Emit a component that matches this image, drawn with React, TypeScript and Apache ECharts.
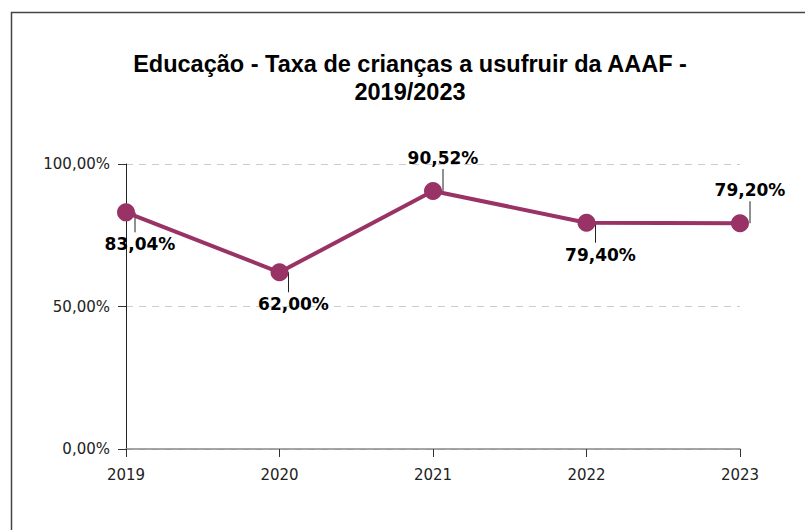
import React, { useEffect, useRef } from "react";
import * as echarts from "echarts";

const years = ["2019", "2020", "2021", "2022", "2023"];
const rates = [83.04, 62.0, 90.52, 79.4, 79.2];
const labelSide = ["bottom", "bottom", "top", "bottom", "top"];
const yTicks = [0, 50, 100];
const titleLines = ["Educação - Taxa de crianças a usufruir da AAAF -", "2019/2023"];

const COLOR = "#993366";
const fmt = (v: number) => v.toFixed(2).replace(".", ",") + "%";

export default function App() {
  const ref = useRef<HTMLDivElement>(null);
  useEffect(() => {
    document.body.style.margin = "0";
    const chart = echarts.init(ref.current!, null, { renderer: "svg" });
    const offsets: Record<string, number[]> = {
      bottom: [14, 32],
      top: [10, -33],
    };
    chart.setOption({
      animation: false,
      backgroundColor: "#ffffff",
      title: titleLines.map((t, i) => ({
        text: t,
        left: 410,
        textAlign: "center",
        top: 52 + i * 28,
        padding: 0,
        textStyle: {
          fontFamily: "Liberation Sans",
          fontWeight: "bold",
          fontSize: 23.5,
          lineHeight: 24,
          color: "#000000",
        },
      })),
      graphic: [
        {
          type: "rect",
          silent: true,
          shape: { x: 11.5, y: 12.5, width: 900, height: 700 },
          style: { fill: "none", stroke: "#444444", lineWidth: 1.5 },
        },
      ],
      grid: { left: 126, right: 65, top: 164, bottom: 81 },
      xAxis: {
        type: "category",
        data: years,
        boundaryGap: false,
        axisLine: { lineStyle: { color: "#888888", width: 1.5 } },
        axisTick: { show: true, length: 8, lineStyle: { color: "#333333" } },
        axisLabel: {
          fontFamily: "DejaVu Sans",
          fontSize: 15,
          color: "#222222",
          margin: 18,
        },
      },
      yAxis: {
        type: "value",
        min: yTicks[0],
        max: yTicks[yTicks.length - 1],
        interval: 50,
        axisLine: { show: true, lineStyle: { color: "#222222", width: 1 } },
        axisTick: { show: true, length: 8, lineStyle: { color: "#333333" } },
        axisLabel: {
          fontFamily: "DejaVu Sans",
          fontSize: 15,
          color: "#222222",
          margin: 16,
          formatter: (v: number) => fmt(v),
        },
        splitLine: {
          show: true,
          lineStyle: { color: "#cccccc", type: [7, 6], width: 1 },
        },
      },
      series: [
        {
          type: "line",
          data: rates.map((v, i) => ({
            value: v,
            label: {
              offset: offsets[labelSide[i]],
            },
          })),
          lineStyle: { color: COLOR, width: 4 },
          itemStyle: { color: COLOR },
          symbol: "circle",
          symbolSize: 18,
          label: {
            show: true,
            position: "inside",
            align: "center",
            verticalAlign: "middle",
            fontFamily: "DejaVu Sans",
            fontWeight: "bold",
            fontSize: 17,
            color: "#000000",
            formatter: (p: any) => fmt(p.value),
          },
          z: 3,
        },
        {
          type: "custom",
          silent: true,
          z: 2,
          data: rates.map((v, i) => [i, v]),
          renderItem: (params: any, api: any) => {
            const i = params.dataIndex;
            const pt = api.coord([api.value(0), api.value(1)]);
            const down = labelSide[i] === "bottom";
            const dx = down ? 9 : 10;
            return {
              type: "line",
              shape: {
                x1: pt[0] + dx,
                y1: pt[1],
                x2: pt[0] + dx,
                y2: pt[1] + (down ? 20 : -22),
              },
              style: { stroke: "#222222", lineWidth: 1 },
            };
          },
        },
      ],
    });
    return () => chart.dispose();
  }, []);
  return <div ref={ref} style={{ width: 805, height: 530 }} />;
}
